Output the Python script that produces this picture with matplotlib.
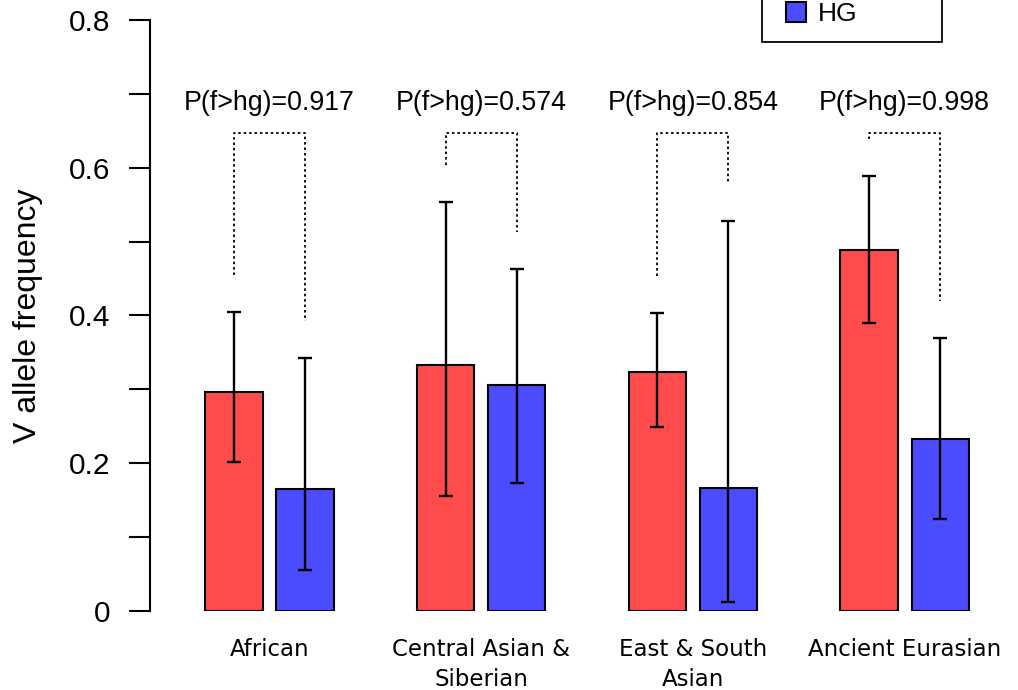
import numpy as np
import matplotlib.pyplot as plt
from matplotlib.lines import Line2D

groups = ['African', 'Central Asian &\nSiberian', 'East & South\nAsian', 'Ancient Eurasian']
f_freq = [0.297, 0.333, 0.323, 0.489]
f_lo = [0.202, 0.156, 0.249, 0.390]
f_hi = [0.405, 0.554, 0.403, 0.589]
hg_freq = [0.165, 0.306, 0.166, 0.233]
hg_lo = [0.056, 0.173, 0.012, 0.125]
hg_hi = [0.343, 0.463, 0.528, 0.370]
p_vals = ['0.917', '0.574', '0.854', '0.998']

red = '#ff4b4b'
blue = '#4b4bff'
helv = 'Liberation Sans'

fig = plt.figure(figsize=(10.18, 6.9), dpi=100)
ax = fig.add_axes([150 / 1018, 79 / 690, 868 / 1018, 591 / 690])

x = np.arange(len(groups))
off = 0.168
w = 0.27
f_freq = np.array(f_freq)
hg_freq = np.array(hg_freq)

ax.bar(x - off, f_freq, w, color=red, edgecolor='black', linewidth=1.5, zorder=2)
ax.bar(x + off, hg_freq, w, color=blue, edgecolor='black', linewidth=1.5, zorder=2)

f_err = [f_freq - np.array(f_lo), np.array(f_hi) - f_freq]
hg_err = [hg_freq - np.array(hg_lo), np.array(hg_hi) - hg_freq]
ax.errorbar(x - off, f_freq, yerr=f_err, fmt='none', ecolor='black', elinewidth=1.7,
            capsize=5, capthick=1.7, zorder=3)
ax.errorbar(x + off, hg_freq, yerr=hg_err, fmt='none', ecolor='black', elinewidth=1.7,
            capsize=5, capthick=1.7, zorder=3)

# dotted brackets + p values
top = 0.647
for i in range(len(groups)):
    ax.plot([x[i] - off, x[i] - off, x[i] + off, x[i] + off],
            [f_hi[i] + 0.05, top, top, hg_hi[i] + 0.05],
            color='black', linewidth=1.3, dashes=(1.4, 1.6), zorder=1)
    ax.text(x[i], 0.687, 'P(f>hg)=' + p_vals[i], ha='center', va='center',
            fontsize=19.3, family=helv)
    ax.text(x[i], -0.036, groups[i], ha='center', va='top', fontsize=16.5,
            family='DejaVu Sans', linespacing=1.4, clip_on=False)

ax.set_xlim(-0.5645, 3.536)
ax.set_ylim(0, 0.8)
ax.set_yticks(np.arange(0, 0.81, 0.1))
ax.set_yticklabels(['0', '', '0.2', '', '0.4', '', '0.6', '', '0.8'], family=helv, fontsize=21.5)
ax.tick_params(axis='y', length=15, width=1.5, pad=13.5)
ax.set_xticks([])
for s in ['top', 'right', 'bottom']:
    ax.spines[s].set_visible(False)
ax.spines['left'].set_linewidth(1.5)
ax.set_ylabel('V allele frequency', family=helv, fontsize=23, labelpad=19)

handles = [Line2D([], [], linestyle='none', marker='s', markersize=14.5, markerfacecolor=red,
                  markeredgecolor='black', markeredgewidth=1.5, label='F'),
           Line2D([], [], linestyle='none', marker='s', markersize=14.5, markerfacecolor=blue,
                  markeredgecolor='black', markeredgewidth=1.5, label='HG')]
leg = ax.legend(handles=handles, loc='lower left', bbox_to_anchor=(2.326, 0.770, 0.85, 0.3),
                bbox_transform=ax.transData, mode='expand', borderaxespad=0,
                prop={'family': helv, 'size': 19}, handlelength=1.42, handleheight=0.76,
                handletextpad=0.1, borderpad=0.6, labelspacing=0.5,
                fancybox=False, framealpha=1, edgecolor='black')
leg.get_frame().set_linewidth(1.3)

fig.savefig('out.png', dpi=100)
